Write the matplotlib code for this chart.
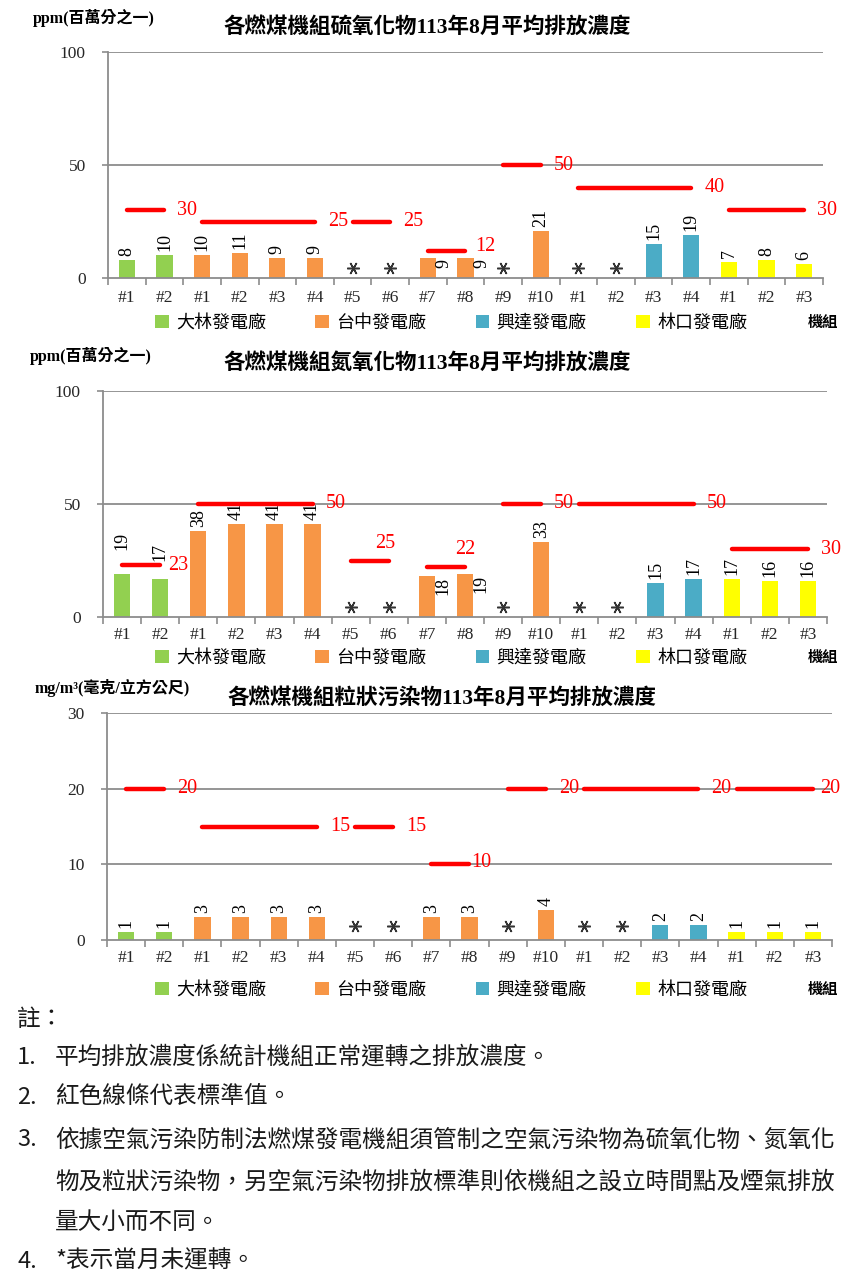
import matplotlib
matplotlib.use('Agg')
import matplotlib.pyplot as plt
from matplotlib.patches import Patch
from matplotlib.transforms import offset_copy
import numpy as np

plt.rcParams['font.family'] = ['Liberation Serif', 'Noto Sans CJK TC']

# ---------------- data ----------------
plants = ['大林發電廠', '台中發電廠', '興達發電廠', '林口發電廠']
plant_colors = ['#92D050', '#F79646', '#4BACC6', '#FFFF00']
units_per_plant = [
    ['#1', '#2'],
    ['#1', '#2', '#3', '#4', '#5', '#6', '#7', '#8', '#9', '#10'],
    ['#1', '#2', '#3', '#4'],
    ['#1', '#2', '#3'],
]
# None = unit not operating this month (*)
sox_values = [8, 10, 10, 11, 9, 9, None, None, 9, 9, None, 21, None, None, 15, 19, 7, 8, 6]
nox_values = [19, 17, 38, 41, 41, 41, None, None, 18, 19, None, 33, None, None, 15, 17, 17, 16, 16]
pm_values = [1, 1, 3, 3, 3, 3, None, None, 3, 3, None, 4, None, None, 2, 2, 1, 1, 1]

# emission standards: unit groups (first, last) and their limit values
std_groups = [(0, 1), (2, 5), (6, 7), (8, 9), (10, 11), (12, 15), (16, 18)]
sox_std = [30, 25, 25, 12, 50, 40, 30]
nox_std = [23, 50, 25, 22, 50, 50, 30]
pm_std = [20, 15, 15, 10, 20, 20, 20]

titles = ['各燃煤機組硫氧化物113年8月平均排放濃度',
          '各燃煤機組氮氧化物113年8月平均排放濃度',
          '各燃煤機組粒狀污染物113年8月平均排放濃度']
unit_labels = ['ppm(百萬分之一)', 'ppm(百萬分之一)', 'mg/m³(毫克/立方公尺)']
y_limits = [100, 100, 30]
y_ticks = [[0, 50, 100], [0, 50, 100], [0, 10, 20, 30]]

note_header = '註：'
note_numbers = ['1.', '2.', '3.', '', '', '4.']
note_lines = ['平均排放濃度係統計機組正常運轉之排放濃度。',
              '紅色線條代表標準值。',
              '依據空氣污染防制法燃煤發電機組須管制之空氣污染物為硫氧化物、氮氧化',
              '物及粒狀污染物，另空氣污染物排放標準則依機組之設立時間點及煙氣排放',
              '量大小而不同。',
              '*表示當月未運轉。']

# ---------------- layout (pixels) ----------------
W, H = 853, 1275
fig = plt.figure(figsize=(W / 100, H / 100), dpi=100)

def rect(l, r, t, b):
    return [l / W, 1 - b / H, (r - l) / W, (b - t) / H]

axes_px = [(108, 823, 52, 278), (103, 827, 391, 617), (107, 832, 713, 940)]
title_px = [(427, 28), (427, 363), (442, 698)]
unitlbl_px = [(33, 18), (30, 356), (35, 688)]
legend_y = [323, 658, 990]
xlabel_pad = [8.5, 7, 7.5]
ast_offset = [10, 10, 14]
side_label_idx = [[8, 9], [8, 9], []]
extra_label_lift = [{}, {0: 20, 1: 14}, {}]
std_label_style = [
    {3: (10, 4, 'left', 'center')},
    {0: (8, 0, 'left', 'center'), 2: (-4, 8, 'center', 'bottom'), 3: (0, 8, 'center', 'bottom')},
    {3: (2, 2, 'left', 'center'), 6: (7, 0, 'left', 'center')},
]
default_std_style = (13, 0, 'left', 'center')

units = [u for grp in units_per_plant for u in grp]
unit_color = [plant_colors[i] for i, grp in enumerate(units_per_plant) for _ in grp]
x = np.arange(len(units))
grey = '#8C8C8C'
txt = '#262626'

series = [(sox_values, sox_std), (nox_values, nox_std), (pm_values, pm_std)]

for k, (vals, stds) in enumerate(series):
    ax = fig.add_axes(rect(*axes_px[k]))
    ax.set_xlim(-0.5, len(units) - 0.5)
    ax.set_ylim(0, y_limits[k])
    ax.set_yticks(y_ticks[k])
    for t in y_ticks[k][1:]:
        ax.axhline(t, color=grey, lw=1.3, zorder=0)
    for s in ['top', 'right']:
        ax.spines[s].set_visible(False)
    for s in ['left', 'bottom']:
        ax.spines[s].set_color(grey)
        ax.spines[s].set_linewidth(1.3)
    ax.tick_params(axis='y', direction='out', length=4, color=grey, width=1.2,
                   labelsize=12.5, labelcolor=txt, pad=12)
    ax.set_xticks(x)
    ax.set_xticklabels(units)
    ax.set_xticks(np.arange(-0.5, len(units), 1), minor=True)
    ax.tick_params(axis='x', which='major', length=0, labelsize=12.5,
                   labelcolor=txt, pad=xlabel_pad[k])
    ax.tick_params(axis='x', which='minor', length=5, direction='out',
                   color=grey, width=1.2)

    # bars
    xi = [i for i, v in enumerate(vals) if v is not None]
    hv = [vals[i] for i in xi]
    cv = [unit_color[i] for i in xi]
    ax.bar(xi, hv, width=0.43, color=cv, zorder=2)

    for i, v in zip(xi, hv):
        if i in side_label_idx[k]:
            ax.annotate(str(v), (i, v), xytext=(16, -1), textcoords='offset pixels',
                        rotation=90, ha='center', va='top', fontsize=13, color='black')
        else:
            lift = 4 + extra_label_lift[k].get(i, 0)
            ax.annotate(str(v), (i, v), xytext=(0, lift), textcoords='offset pixels',
                        rotation=90, ha='center', va='bottom', fontsize=13, color='black')

    # not operating markers
    xa = [i for i, v in enumerate(vals) if v is None]
    tr = offset_copy(ax.transData, fig=fig, x=0, y=ast_offset[k], units='dots')
    ax.plot(xa, [0] * len(xa), linestyle='none', marker=(6, 2, 90), ms=9, mew=1.1,
            color='#333333', transform=tr, zorder=3)

    # standard lines
    for j, ((a, b), sv) in enumerate(zip(std_groups, stds)):
        ax.plot([a, b], [sv, sv], color='#FF0000', lw=3.2, solid_capstyle='round',
                zorder=4)
        dx, dy, ha, va = std_label_style[k].get(j, default_std_style)
        ax.annotate(str(sv), (b, sv), xytext=(dx, dy), textcoords='offset pixels',
                    ha=ha, va=va, fontsize=14.5, color='#FF0000', zorder=5,
                    annotation_clip=False)

    # titles and unit labels
    tx, ty = title_px[k]
    fig.text(tx / W, 1 - ty / H, titles[k], ha='center', va='center',
             fontsize=15.5, fontweight='bold', color='black')
    ux, uy = unitlbl_px[k]
    fig.text(ux / W, 1 - uy / H, unit_labels[k], ha='left', va='center',
             fontsize=11.5, fontweight='bold', color='black')

    # legend
    handles = [Patch(facecolor=c, edgecolor='none') for c in plant_colors]
    fig.legend(handles, plants, loc='center left',
               bbox_to_anchor=(155 / W, 1 - legend_y[k] / H), ncol=4, frameon=False,
               fontsize=13, handlelength=0.75, handleheight=0.75, handletextpad=0.4,
               columnspacing=2.75, borderpad=0, borderaxespad=0)
    fig.text(823 / W, 1 - legend_y[k] / H, '機組', ha='center', va='center',
             fontsize=11, fontweight='bold', color='black')

# notes
note_font = ['Noto Sans CJK TC', 'DejaVu Sans']
fig.text(17 / W, 1 - 1019 / H, note_header, ha='left', va='center', fontsize=17,
         color='#1A1A1A', family=note_font)
note_y = [1057, 1097, 1140, 1182, 1222, 1261]
for ny, num, s in zip(note_y, note_numbers, note_lines):
    if num:
        fig.text(17 / W, 1 - ny / H, num, ha='left', va='center', fontsize=17,
                 color='#1A1A1A', family=note_font)
    fig.text(55 / W, 1 - ny / H, s, ha='left', va='center', fontsize=17,
             color='#1A1A1A', family=note_font)

fig.savefig('out.png', dpi=100)
